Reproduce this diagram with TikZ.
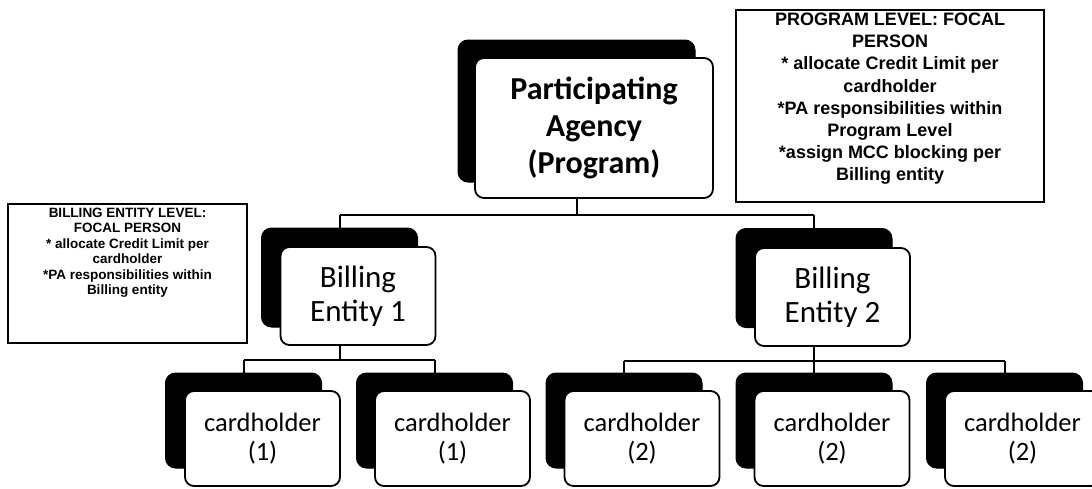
\documentclass[tikz,border=0pt]{standalone}
\usepackage{fontspec}
\newfontfamily\cardfamily{Carlito}
\newfontfamily\notefamily{Liberation Sans}
\begin{document}
\begin{tikzpicture}[x=1pt,y=-1pt,
  backcard/.style={draw=black, fill=black, line width=1pt, rounded corners=10pt,
    inner sep=0pt, outer sep=0pt},
  frontcard/.style={draw=black, fill=white, line width=1.8pt, rounded corners=9pt,
    inner sep=0pt, outer sep=0pt, align=center},
  notebox/.style={draw=black, fill=white, line width=2.2pt, inner sep=0pt, outer sep=0pt},
  notetext/.style={inner sep=0pt, outer sep=0pt, align=center},
  link/.style={line width=2pt},
  toplevel/.style={font=\cardfamily\bfseries\fontsize{32}{37}\selectfont},
  midlevel/.style={font=\cardfamily\fontsize{31}{34}\selectfont},
  leaflevel/.style={font=\cardfamily\fontsize{26.5}{29}\selectfont},
]
\clip (0,0) rectangle (1092,488);

% bus lines of the tree
\coordinate (bus0) at (0,215);
\coordinate (bus1) at (0,360);
\coordinate (bus2) at (0,361);

% top level: the program
\node[backcard, minimum width=237pt, minimum height=142pt] (topback) at (576.5,111) {};
\node[frontcard, toplevel, minimum width=238pt, minimum height=140pt] (top) at (594,128)
  {Participating\\Agency\\(Program)};

% billing entities
\node[backcard, minimum width=156pt, minimum height=99pt] (be1back) at (339.5,277.5) {};
\node[frontcard, midlevel, minimum width=155pt, minimum height=98pt] (be1) at (358,296)
  {Billing\\Entity 1};
\node[backcard, minimum width=156pt, minimum height=99pt] (be2back) at (814,278) {};
\node[frontcard, midlevel, minimum width=155pt, minimum height=98pt] (be2) at (832.5,297)
  {Billing\\Entity 2};

% cardholders
\foreach \n/\bx/\fx/\g in {c1/243.5/262.5/1, c2/434.5/452.5/1, c3/624/642/2,
                            c4/814/832/2, c5/1004.5/1022.5/2}{
  \node[backcard, minimum width=156pt, minimum height=95pt] (\n back) at (\bx,420.5) {};
  \node[frontcard, leaflevel, minimum width=155pt, minimum height=95pt] (\n) at (\fx,438.5)
    {cardholder\\(\g)};
}

% connectors
\draw[link] (top.south -| topback.south) -- (bus0 -| topback.south);
\draw[link] (bus0 -| be1back.north) -- (bus0 -| be2back.north);
\draw[link] (bus0 -| be1back.north) -- (be1back.north);
\draw[link] (bus0 -| be2back.north) -- (be2back.north);

\draw[link] (be1.south -| be1back.south) -- (bus1 -| be1back.south);
\draw[link] (bus1 -| c1back.north) -- (bus1 -| c2back.north);
\draw[link] (bus1 -| c1back.north) -- (c1back.north);
\draw[link] (bus1 -| c2back.north) -- (c2back.north);

\draw[link] (be2.south -| be2back.south) -- (bus2 -| be2back.south);
\draw[link] (bus2 -| c3back.north) -- (bus2 -| c5back.north);
\draw[link] (bus2 -| c3back.north) -- (c3back.north);
\draw[link] (bus2 -| c4back.north) -- (c4back.north);
\draw[link] (bus2 -| c5back.north) -- (c5back.north);

% responsibility notes
\node[notebox, minimum width=308pt, minimum height=192pt] (prognote) at (890,106) {};
\node[notetext, anchor=north, font=\notefamily\bfseries\fontsize{18}{22.2}\selectfont]
  (progtext) at ([yshift=-3pt]prognote.north)
  {PROGRAM LEVEL: FOCAL\\PERSON\\* allocate Credit Limit per\\cardholder\\
   *PA responsibilities within\\Program Level\\*assign MCC blocking per\\Billing entity};

\node[notebox, minimum width=239pt, minimum height=139pt] (benote) at (127.5,273.5) {};
\node[notetext, anchor=north, font=\notefamily\bfseries\fontsize{13.5}{15.4}\selectfont]
  (betext) at ([yshift=-4pt]benote.north)
  {BILLING ENTITY LEVEL:\\FOCAL PERSON\\* allocate Credit Limit per\\cardholder\\
   *PA responsibilities within\\Billing entity};
\end{tikzpicture}
\end{document}
